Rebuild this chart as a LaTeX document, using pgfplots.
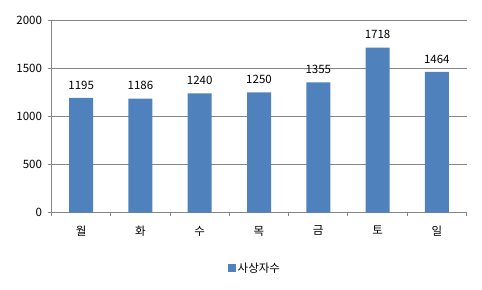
\documentclass[border=0pt]{standalone}
\usepackage{pgfplots}
\pgfplotsset{compat=1.18}
\usepackage{fontspec}
\setmainfont{Noto Sans CJK KR}
\definecolor{barblue}{HTML}{4F81BD}
\definecolor{gridgray}{HTML}{868686}
\begin{document}
\begin{tikzpicture}
\useasboundingbox (0,0) rectangle (482bp,290bp);
\begin{axis}[
  at={(51.5bp,77.5bp)}, anchor=south west,
  scale only axis, width=415bp, height=192bp,
  font=\fontsize{11.5bp}{13bp}\selectfont,
  /pgf/number format/assume math mode=true,
  /pgf/number format/1000 sep={},
  xmin=-0.5, xmax=6.5, ymin=0, ymax=2000,
  ytick={0,500,...,2000},
  xtick={0,...,6},
  xticklabels={월,화,수,목,금,토,일},
  minor xtick={-0.5,0.5,...,6.5},
  xtick pos=bottom, ytick pos=left,
  major x tick style={draw=none},
  minor x tick style={draw=gridgray, line width=1bp},
  y tick style={draw=gridgray, line width=1bp},
  tick align=outside,
  minor tick length=4bp,
  major tick length=4bp,
  axis line style={draw=none},
  ymajorgrids=true,
  grid style={draw=gridgray, line width=1bp},
  extra x ticks={-0.5},
  extra x tick labels={},
  extra x tick style={xmajorgrids=true, major x tick style={draw=none}, major grid style={draw=gridgray, line width=1bp}},
  xticklabel style={yshift=-6bp},
  yticklabel style={xshift=-2bp},
  clip=false,
  legend style={at={(0.49,-0.29)}, anchor=center, draw=none, font=\fontsize{11.5bp}{13bp}\selectfont},
  enlargelimits=false,
]
\addplot[forget plot, fill=gridgray, draw=none, mark=none] coordinates {(-0.5,494.8) (6.5,494.8) (6.5,505.2) (-0.5,505.2)} -- cycle;
\addplot[forget plot, fill=gridgray, draw=none, mark=none] coordinates {(-0.5,994.8) (6.5,994.8) (6.5,1005.2) (-0.5,1005.2)} -- cycle;
\addplot[forget plot, fill=gridgray, draw=none, mark=none] coordinates {(-0.5,1494.8) (6.5,1494.8) (6.5,1505.2) (-0.5,1505.2)} -- cycle;
\addplot[forget plot, fill=gridgray, draw=none, mark=none] coordinates {(-0.5,1994.8) (6.5,1994.8) (6.5,2005.2) (-0.5,2005.2)} -- cycle;
\addplot[ybar, bar width=24bp, fill=barblue, draw=none,
  nodes near coords,
  nodes near coords style={font=\fontsize{11.5bp}{13bp}\selectfont, black, yshift=5bp, anchor=south},
  legend image code/.code={\fill[barblue] (0bp,-4bp) rectangle (8bp,4bp);}]
  coordinates {(0,1195) (1,1186) (2,1240) (3,1250) (4,1355) (5,1718) (6,1464)};
\addlegendentry{사상자수}
\end{axis}
\end{tikzpicture}
\end{document}
